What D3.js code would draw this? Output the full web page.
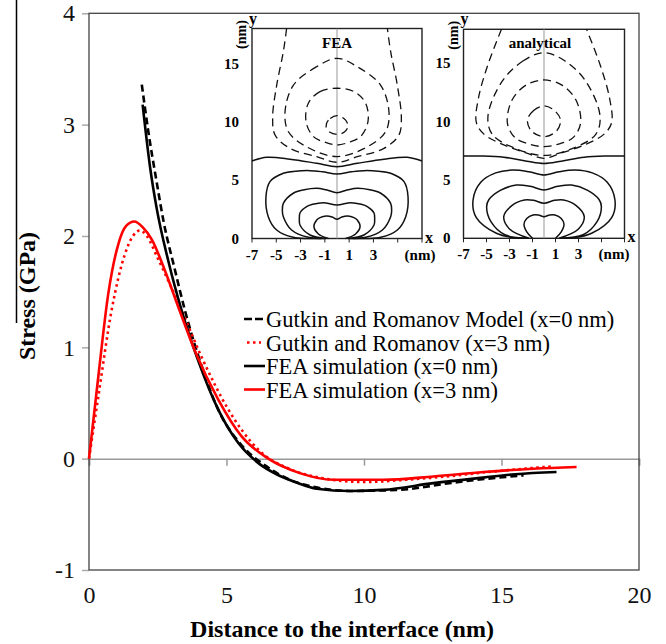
<!DOCTYPE html>
<html>
<head>
<meta charset="utf-8">
<script src="https://cdn.jsdelivr.net/npm/d3@7"></script>
<style>
  body { margin: 0; background: #fff; }
  svg { display: block; font-family: "Liberation Serif", "Times New Roman", serif; }
</style>
</head>
<body>
<svg id="chart"></svg>
<script>
// main curves: [distance nm, stress GPa]
const gutkinX0 = [[1.92,3.36],[2.15,2.95],[2.45,2.5],[2.72,2.12],[3.1,1.72],[3.49,1.33],[4.03,0.88],[4.7,0.44],[5.55,0.12],[6.4,-0.06],[7.3,-0.19],[8.3,-0.26],[9.5,-0.29],[11.3,-0.28],[13.1,-0.22],[14.5,-0.18],[15.8,-0.15]];
const gutkinX3 = [[0,0],[0.34,0.56],[0.82,1.33],[1.31,1.84],[1.6,2.0],[1.85,2.05],[2.1,2.0],[2.5,1.8],[3.37,1.33],[4.1,0.91],[5.07,0.44],[6.16,0.08],[7.37,-0.1],[8.6,-0.18],[10,-0.21],[11.5,-0.19],[13,-0.16],[14.5,-0.12],[16.8,-0.07]];
const feaX0 = [[1.95,3.18],[2.22,2.62],[2.46,2.25],[2.88,1.78],[3.37,1.33],[3.97,0.88],[4.7,0.44],[5.43,0.14],[6.16,-0.04],[6.82,-0.14],[7.5,-0.21],[8.28,-0.27],[9.49,-0.29],[10.7,-0.28],[12.52,-0.22],[14.34,-0.17],[15.5,-0.14],[17.0,-0.12]];
const feaX3 = [[0,0],[0.34,0.74],[0.7,1.48],[1.07,1.93],[1.35,2.09],[1.65,2.13],[1.95,2.08],[2.28,1.97],[2.76,1.69],[3.25,1.36],[3.85,0.97],[4.7,0.53],[5.55,0.2],[6.52,0.0],[7.67,-0.13],[8.88,-0.19],[10.7,-0.19],[12.52,-0.16],[14.34,-0.12],[16.16,-0.09],[17.73,-0.075]];

const xTicks = [0, 5, 10, 15, 20];
const yTicks = [-1, 0, 1, 2, 3, 4];
const legendLabels = ["Gutkin and Romanov Model (x=0 nm)", "Gutkin and Romanov (x=3 nm)", "FEA simulation (x=0 nm)", "FEA simulation (x=3 nm)"];

// inset contours, left halves (x <= 0), mirrored about x = 0
const feaSolid = [
  [[0,5.56],[-1.2,5.75],[-2.22,5.85],[-3.4,5.8],[-4.42,5.62],[-5.52,4.9],[-5.85,3.6],[-5.66,1.88],[-4.97,0.73],[-3.6,0.1],[-2.4,0],[-1.3,0]],
  [[0,3.95],[-0.9,4.2],[-1.67,4.33],[-2.7,4.2],[-3.6,3.9],[-4.42,3.03],[-4.5,2.4],[-4.42,1.88],[-3.74,0.73],[-2.36,0.1],[-1.05,0]],
  [[0,2.89],[-1.13,3.09],[-2.0,2.95],[-2.5,2.75],[-3.05,2.2],[-3.1,1.6],[-3.05,1.16],[-2.22,0.3],[-0.9,0]],
  [[0,1.65],[-0.4,1.85],[-0.88,1.94],[-1.4,1.8],[-1.67,1.6],[-1.9,1.02],[-1.53,0.39],[-0.7,0]]
];
const feaWave = [[0,6.19],[-1.67,6.48],[-3.87,6.84],[-5.79,7.0],[-7,6.68]];
const feaOpenDash = [[0,6.57],[-1.67,7.05],[-3.87,7.77],[-5.1,8.92],[-5.3,10.4],[-4.97,13.2],[-4.42,16.1],[-4.15,18.1]];
const feaDash = [
  [[0,15.53],[-1.67,14.81],[-3.6,13.2],[-4.28,10.9],[-4.0,9.2],[-2.5,7.9],[0,7.06]],
  [[0,12.95],[-1.4,12.66],[-2.36,11.66],[-2.55,10.07],[-1.94,8.78],[-1.0,8.3],[0,8.06]],
  [[0,10.59],[-0.71,10.2],[-0.9,9.64],[-0.58,9.15],[0,8.98]]
];
const anaSolid = [
  [[0,5.42],[-1.3,5.7],[-2.7,5.85],[-4.2,5.6],[-5.5,4.8],[-6.17,3.28],[-5.9,1.8],[-4.14,0.43],[-2.6,0.05],[-1.58,0]],
  [[0,4.14],[-1.2,4.45],[-2.4,4.56],[-3.8,4.1],[-4.8,3.3],[-4.99,2.7],[-4.6,1.4],[-3.4,0.3],[-1.4,0]],
  [[0,3.0],[-0.9,3.25],[-1.7,3.28],[-2.8,2.8],[-3.5,1.86],[-3.0,0.8],[-1.3,0]],
  [[0,1.85],[-0.5,2.0],[-0.95,2.0],[-1.5,1.7],[-1.74,1.2],[-1.5,0.55],[-1.0,0]]
];
const anaWave = [[0,6.4],[-1.5,6.6],[-3.5,6.95],[-5.5,7.05],[-7,7.05]];
const anaOpenDash = [[0,6.85],[-1.5,7.3],[-3.5,8.0],[-5.2,8.9],[-5.88,9.9],[-5.7,12.0],[-4.9,14.8],[-3.7,17.9]];
const anaDash = [
  [[0,15.9],[-1.8,15.2],[-3.6,13.5],[-4.87,10.5],[-4.5,8.9],[-2.5,7.7],[0,7.1]],
  [[0,13.56],[-1.6,13.1],[-2.8,11.8],[-3.18,9.85],[-2.5,8.6],[-1.2,8.05],[0,7.85]],
  [[0,11.34],[-0.9,10.95],[-1.44,10.13],[-1.1,9.2],[0,8.7]]
];
const insetXTicks = [-7, -5, -3, -1, 1, 3];
const insetYTicks = [0, 5, 10, 15];

const W = 666, H = 644;
const svg = d3.select("#chart").attr("width", W).attr("height", H);

const mLeft = 89, mRight = 639, mTop = 13.3, mBottom = 570;
const x = d3.scaleLinear().domain([0, 20]).range([mLeft, mRight]);
const y = d3.scaleLinear().domain([-1, 4]).range([mBottom, mTop]);

// stray edge line from the scan
svg.append("line").attr("x1", 16.5).attr("x2", 16.5).attr("y1", 0).attr("y2", 323)
  .attr("stroke", "#000").attr("stroke-width", 1.5);

// zero axis with ticks
const xAxis0 = svg.append("g").attr("transform", `translate(0,${y(0)})`)
  .call(d3.axisBottom(x).tickValues(xTicks).tickSize(7).tickFormat(""));
xAxis0.select(".domain").attr("stroke", "#999").attr("stroke-width", 1.5);
xAxis0.selectAll(".tick line").attr("stroke", "#999").attr("stroke-width", 1.5);

// tick labels at the bottom
const xLab = svg.append("g").attr("transform", `translate(0,${mBottom})`)
  .call(d3.axisBottom(x).tickValues(xTicks).tickSize(0).tickPadding(16).tickFormat(d => String(d)));
xLab.select(".domain").remove();
xLab.selectAll("text").attr("font-size", 24).attr("font-family", "Liberation Serif").attr("fill", "#111");

const yAxis = svg.append("g").attr("transform", `translate(${mLeft},0)`)
  .call(d3.axisLeft(y).tickValues(yTicks).tickSize(7).tickPadding(7).tickFormat(d => String(d)));
yAxis.select(".domain").remove();
yAxis.selectAll(".tick line").attr("stroke", "#aaa").attr("stroke-width", 1.5);
yAxis.selectAll("text").attr("font-size", 24).attr("font-family", "Liberation Serif").attr("fill", "#111");

// plot frame
svg.append("rect").attr("x", mLeft).attr("y", mTop).attr("width", mRight - mLeft).attr("height", mBottom - mTop)
  .attr("fill", "none").attr("stroke", "#444").attr("stroke-width", 1.3);

// axis titles
svg.append("text").attr("x", 342).attr("y", 637).attr("text-anchor", "middle")
  .attr("font-size", 24).attr("font-weight", "bold").text("Distance to the interface (nm)");
svg.append("text").attr("transform", "translate(35,296) rotate(-90)").attr("text-anchor", "middle")
  .attr("font-size", 24).attr("font-weight", "bold").text("Stress (GPa)");

// ---- inset panels ----
function drawPanel(p) {
  const g = svg.append("g");
  const sx = d3.scaleLinear().domain([-7, 7]).range(p.xr);
  const sy = d3.scaleLinear().domain([0, p.ymax]).range(p.yr);
  const mirror = pts => pts.map(d => [-d[0], d[1]]);
  const open = d3.line().x(d => sx(d[0])).y(d => sy(d[1])).curve(d3.curveCatmullRom.alpha(0.5));
  const closed = d3.line().x(d => sx(d[0])).y(d => sy(d[1])).curve(d3.curveCatmullRomClosed.alpha(0.5));

  g.append("rect").attr("x", p.xr[0]).attr("y", p.yr[1]).attr("width", p.xr[1] - p.xr[0])
    .attr("height", p.yr[0] - p.yr[1]).attr("fill", "#fff").attr("stroke", "#222").attr("stroke-width", 1.4);
  g.append("line").attr("x1", sx(0)).attr("x2", sx(0)).attr("y1", p.yr[0]).attr("y2", p.yr[1])
    .attr("stroke", "#999").attr("stroke-width", 1);

  // solid contours, open at the bottom edge
  p.solid.forEach(h => {
    const full = h.slice().reverse().concat(mirror(h).slice(1));
    g.append("path").attr("d", open(full)).attr("fill", "none").attr("stroke", "#111").attr("stroke-width", 1.5);
  });
  const wave = p.wave.slice().reverse().concat(mirror(p.wave).slice(1));
  g.append("path").attr("d", open(wave)).attr("fill", "none").attr("stroke", "#111").attr("stroke-width", 1.5);

  // dashed contours
  const od = p.openDash.slice().reverse().concat(mirror(p.openDash).slice(1));
  g.append("path").attr("d", open(od)).attr("fill", "none").attr("stroke", "#111")
    .attr("stroke-width", 1.3).attr("stroke-dasharray", "8,5");
  p.dash.forEach(h => {
    const full = h.concat(mirror(h).slice(1, -1).reverse());
    g.append("path").attr("d", closed(full)).attr("fill", "none").attr("stroke", "#111")
      .attr("stroke-width", 1.3).attr("stroke-dasharray", "8,5");
  });

  // ticks and labels
  const xt = d3.range(-7, 8, 2);
  g.selectAll(".xt").data(xt).join("line").attr("x1", sx).attr("x2", sx)
    .attr("y1", p.yr[0]).attr("y2", p.yr[0] + 4).attr("stroke", "#222");
  g.selectAll(".xl").data(insetXTicks).join("text").attr("x", sx).attr("y", p.yr[0] + 21)
    .attr("text-anchor", "middle").attr("font-size", 15).attr("font-weight", "bold").text(d => d);
  g.selectAll(".yl").data(insetYTicks).join("text").attr("x", p.xr[0] - 13).attr("y", d => sy(d) + 5)
    .attr("text-anchor", "end").attr("font-size", 15).attr("font-weight", "bold").text(d => d);
  g.append("text").attr("x", p.nmX).attr("y", p.yr[0] + 21).attr("text-anchor", "middle")
    .attr("font-size", 15).attr("font-weight", "bold").text("(nm)");
  g.append("text").attr("x", p.xr[1] + 3).attr("y", p.yr[0] + 4)
    .attr("font-size", 16).attr("font-weight", "bold").text("x");
  g.append("text").attr("x", p.xr[0] + 1).attr("y", p.yr[1] - 5).attr("text-anchor", "middle")
    .attr("font-size", 16).attr("font-weight", "bold").text("y");
  g.append("text").attr("transform", `translate(${p.xr[0] - 6},${p.yr[1] + 6}) rotate(-90)`)
    .attr("text-anchor", "middle").attr("font-size", 14).attr("font-weight", "bold").text("(nm)");
  g.append("text").attr("x", p.titleX).attr("y", p.yr[1] + 19).attr("text-anchor", "middle")
    .attr("font-size", 15).attr("font-weight", "bold").text(p.title);
}

drawPanel({ title: "FEA", titleX: 337, nmX: 420, xr: [252, 422], yr: [238.5, 28.5], ymax: 18.1,
  solid: feaSolid, wave: feaWave, openDash: feaOpenDash, dash: feaDash });
drawPanel({ title: "analytical", titleX: 540, nmX: 614, xr: [463.5, 624.5], yr: [238.3, 29.3], ymax: 17.9,
  solid: anaSolid, wave: anaWave, openDash: anaOpenDash, dash: anaDash });

// ---- main curves ----
const line = d3.line().x(d => x(d[0])).y(d => y(d[1])).curve(d3.curveMonotoneX);
const series = [
  { data: gutkinX0, color: "#000", dash: "7,4" },
  { data: gutkinX3, color: "#ff0000", dash: "2.5,3.5" },
  { data: feaX0, color: "#000", dash: null },
  { data: feaX3, color: "#ff0000", dash: null }
];
series.forEach(s => {
  svg.append("path").attr("d", line(s.data)).attr("fill", "none").attr("stroke", s.color)
    .attr("stroke-width", 2.6).attr("stroke-dasharray", s.dash);
});

// legend
const lg = svg.append("g");
series.forEach((s, i) => {
  const by = 327 + i * 23.5;
  lg.append("line").attr("x1", i === 1 ? 247 : 244).attr("x2", i === 1 ? 261 : 265)
    .attr("y1", by - 8).attr("y2", by - 8).attr("stroke", s.color).attr("stroke-width", 2.6)
    .attr("stroke-dasharray", i === 0 ? "8,3" : s.dash);
  lg.append("text").attr("x", 266).attr("y", by).attr("font-size", 22.5).attr("fill", "#000")
    .text(legendLabels[i]);
});
</script>
</body>
</html>
